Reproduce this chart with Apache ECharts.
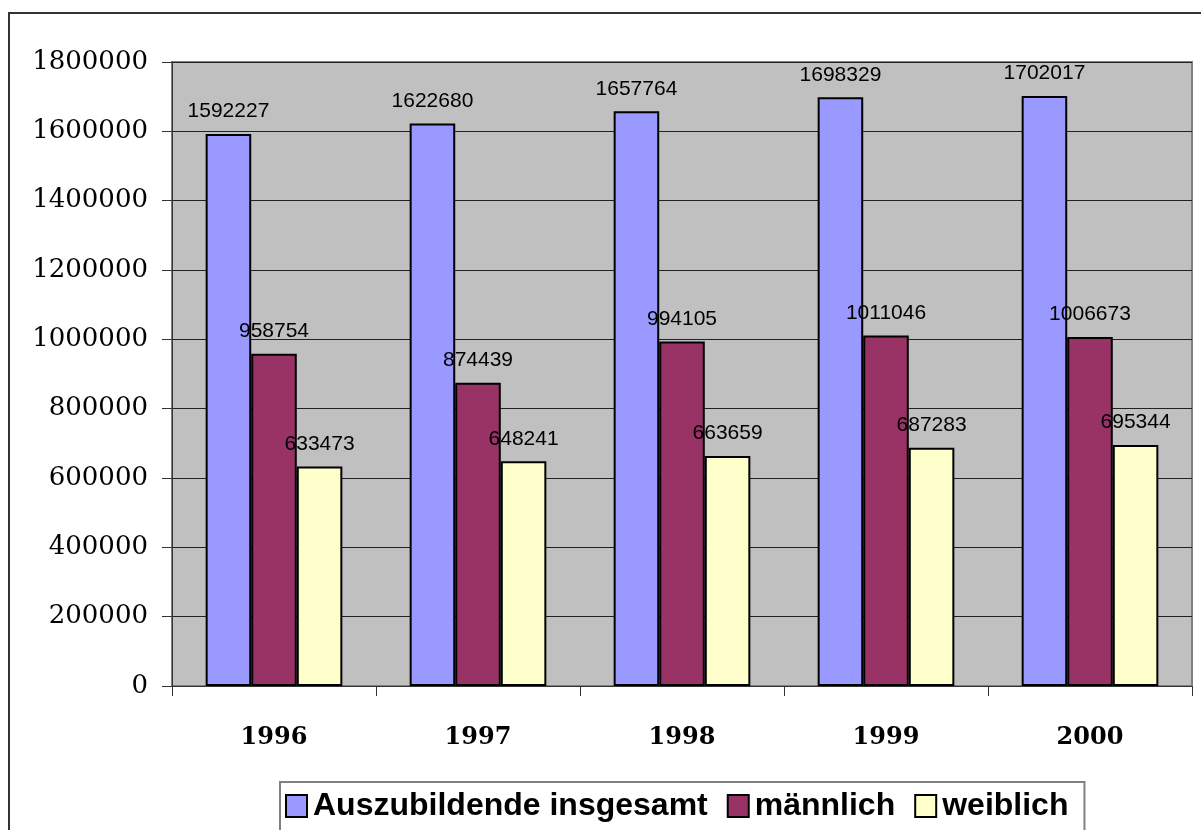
<!DOCTYPE html>
<html>
<head>
<meta charset="utf-8">
<script src="https://cdn.jsdelivr.net/npm/echarts@6/dist/echarts.min.js"></script>
<style>
  html, body { margin: 0; padding: 0; background: #fff; }
  #chart { width: 1201px; height: 830px; }
</style>
</head>
<body>
<div id="chart"></div>
<script>
// Auszubildende in Deutschland, 1996–2000
const years = ['1996', '1997', '1998', '1999', '2000'];
const insgesamt = [1592227, 1622680, 1657764, 1698329, 1702017];
const maennlich = [958754, 874439, 994105, 1011046, 1006673];
const weiblich = [633473, 648241, 663659, 687283, 695344];
const seriesNames = ['Auszubildende insgesamt', 'männlich', 'weiblich'];

const chart = echarts.init(document.getElementById('chart'), null, { renderer: 'canvas' });

const valueLabel = {
  show: true,
  position: 'top',
  distance: 12,
  color: '#000',
  fontFamily: 'Arial, "Liberation Sans", sans-serif',
  fontSize: 21
};

function barSeries(name, data, color) {
  return {
    name: name,
    type: 'bar',
    data: data,
    barGap: '0%',
    barCategoryGap: '33%',
    itemStyle: { color: color, borderColor: '#000', borderWidth: 2 },
    label: valueLabel,
    emphasis: { disabled: true }
  };
}

chart.setOption({
  animation: false,
  backgroundColor: '#fff',
  graphic: [{
    type: 'rect',
    z: -1,
    shape: { x: 9, y: 13, width: 1260, height: 900 },
    style: { fill: 'none', stroke: '#333', lineWidth: 2 }
  }],
  grid: {
    left: 172, right: 9, top: 62, bottom: 144,
    show: true,
    backgroundColor: '#C0C0C0',
    borderColor: '#808080',
    borderWidth: 2
  },
  legend: {
    left: 280,
    top: 782,
    orient: 'horizontal',
    icon: 'rect',
    itemWidth: 21,
    itemHeight: 22,
    itemGap: 19,
    padding: [8, 16, 16, 5],
    borderColor: '#808080',
    borderWidth: 2,
    backgroundColor: '#fff',
    textStyle: {
      color: '#000',
      fontFamily: 'Arial, "Liberation Sans", sans-serif',
      fontWeight: 'bold',
      fontSize: 32,
      lineHeight: 32,
      padding: [0, 0, 0, 1]
    },
    data: seriesNames
  },
  xAxis: {
    type: 'category',
    data: years,
    boundaryGap: true,
    axisLine: { lineStyle: { color: '#333', width: 1 } },
    axisTick: { show: true, length: 10, lineStyle: { color: '#333' } },
    axisLabel: {
      margin: 40,
      color: '#000',
      fontFamily: '"DejaVu Serif", serif',
      fontWeight: 'bold',
      fontSize: 24
    }
  },
  yAxis: {
    type: 'value',
    min: 0,
    max: 1800000,
    interval: 200000,
    axisLine: { show: true, lineStyle: { color: '#333', width: 1 } },
    axisTick: { show: true, length: 10, lineStyle: { color: '#333' } },
    splitLine: { show: true, lineStyle: { color: '#222', width: 1 } },
    axisLabel: {
      margin: 24,
      color: '#000',
      fontFamily: '"DejaVu Serif", serif',
      fontSize: 26,
      formatter: function (v) { return String(v); }
    }
  },
  series: [
    barSeries(seriesNames[0], insgesamt, '#9999FF'),
    barSeries(seriesNames[1], maennlich, '#993366'),
    barSeries(seriesNames[2], weiblich, '#FFFFCC')
  ]
});
</script>
</body>
</html>
